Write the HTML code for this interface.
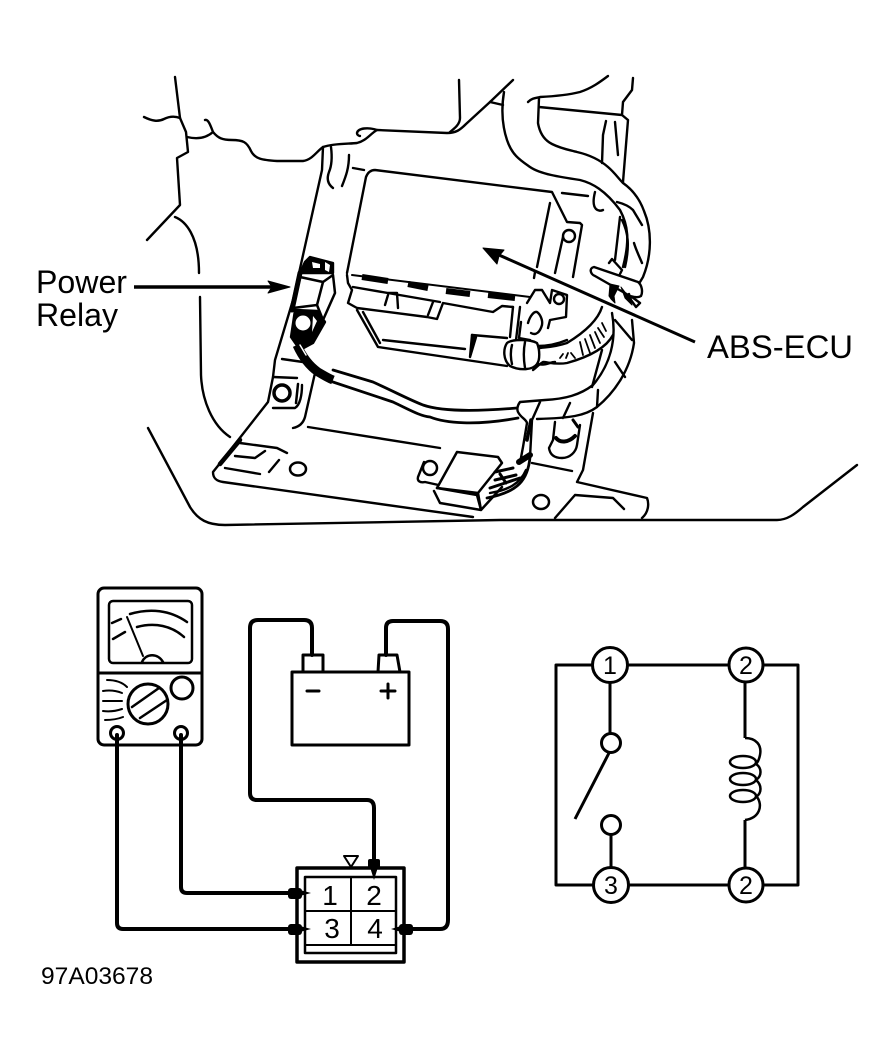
<!DOCTYPE html>
<html><head><meta charset="utf-8"><style>
html,body{margin:0;padding:0;background:#fff}
svg{display:block}
text{font-family:"Liberation Sans",sans-serif;fill:#000}
</style></head><body>
<svg width="895" height="1059" viewBox="0 0 895 1059" xmlns="http://www.w3.org/2000/svg">
<g fill="none" stroke="#000" stroke-width="2.4" stroke-linejoin="round" stroke-linecap="round">
<!-- upper outline -->
<polyline points="175,77 180,118 186,132 188,152 177,158 180,205 147,240"/>
<path d="M144,117C152,121 158,122 164,119 170,116 175,116 180,118"/>
<path d="M187,137C195,139 205,139 213,132 210,124 208,119 205,120"/>
<path d="M213,132C218,138 222,140 232,140 243,140 247,142 251,151 255,159 262,160 277,161L303,161C312,160 317,151 323,147 335,143 350,144 357,143 366,141 370,134 377,130 368,127 358,128 357,133 357,135 359,136 360,136"/>
<path d="M377,130L447,133C456,133 460,130 466,124L490,102 513,80"/>
<path d="M459,80L460,118C460,124 455,128 450,132"/>
<path d="M490,102L503,105M504,92C501,110 502,125 507,140 512,155 520,160 530,167 540,174 560,177 580,180 592,183 605,190 620,210 628,225 630,240 623,267"/>
<path d="M175,217C185,221 199,235 199,273M200,297L201,375C202,400 212,425 230,437"/>
<!-- panel -->
<path d="M323,147L322,170 293,300 275,360 273,377 268,402 217,467 213,472C213,478 216,481 223,482L473,517"/>
<path d="M240,440L220,464" stroke-width="4.5"/>
<path d="M331,147C332,155 332,165 329,172 326,180 329,185 333,188M349,155C349,168 346,176 342,186M353,168L364,170"/>
<path d="M148,428L190,507C198,520 208,525 225,525L500,520 777,520C787,520 795,514 803,507L857,465"/>
<!-- ECU -->
<path d="M347,273L366,177C368,172 371,170 375,170L552,192 567,222 580,223 582,225 573,277"/>
<path d="M550,203L537,267M535,272L534,278M563,237L555,273M562,193L588,196M595,192C593,200 593,206 596,209 598,211 601,211 603,210"/>
<circle cx="569" cy="236" r="6"/>
<path d="M347,275L348,283 352,290 348,303 357,308 427,317 437,319 443,303 493,312 502,306 513,307"/>
<path d="M353,287L440,302M388,293L397,293 398,308M388,295L385,305M433,302L428,315M357,310L378,347 507,366M363,312L380,343M383,340L465,349M472,335L507,338"/>
<path d="M352,275L530,297" stroke-width="2"/>
<path d="M362,277L388,281M408,284L428,288M446,291L470,294M488,295L515,298" stroke-width="6" stroke-linecap="butt"/>
<polygon points="472,335 476,337 470,357" fill="#000"/>
<!-- grommet and connector -->
<path d="M507,343C512,339 530,339 537,343 540,350 540,360 537,364 533,370 520,371 510,366 503,360 503,349 507,343ZM512,345C510,352 511,360 512,364M525,342C523,352 524,362 525,368M538,346C545,346 555,345 567,340M538,364C545,366 550,362 555,362"/>
<path d="M527,303L535,290 542,290 550,303 552,290 567,295 566,317 550,320 548,328M513,307L510,337M520,307L516,340M528,323C530,316 534,311 537,312 540,314 543,320 542,325 540,332 536,336 531,333M521,322L519,338 530,340"/>
<circle cx="559" cy="299" r="5"/>
<!-- harness top -->
<path d="M528,102C532,98 536,98 540,97 560,96 572,94 580,92 592,88 600,82 608,76"/>
<path d="M539,98L538,123C540,135 546,141 552,144 562,149 570,150 577,152 590,155 600,160 608,167 615,173 618,178 623,183 633,190 640,200 644,211 652,230 652,255 643,277L640,282"/>
<path d="M539,107L622,115 628,120 623,182M633,78L632,90 623,102 622,115M602,163L603,135 606,121M615,122L618,155M617,202C625,204 630,207 633,210L642,225M634,243C636,250 640,258 642,263M620,217L615,260M622,220C628,232 630,245 625,267"/>
<!-- strap -->
<path d="M594,267L638,282C642,285 643,292 641,296 638,298 634,297 630,296L595,276C590,274 589,268 594,267Z" fill="#fff"/>
<path d="M609,263L612,259 622,270 620,274M632,297L640,303 636,307 631,300 629,294"/>
<polygon points="610,284 619,286 614,296 615,303 611,299 609,296" fill="#000" stroke-width="1"/>
<polygon points="621,287 628,296 632,305 625,298" fill="#000" stroke-width="1"/>
<!-- lower harness -->
<path d="M602,307C598,320 585,332 567,343 555,347 548,347 540,348"/>
<path d="M613,335C605,350 585,358 567,363 555,365 548,362 543,362 538,365 536,368 533,370"/>
<path d="M612,313C617,340 610,365 593,385 580,395 565,399 545,400L520,402C517,406 517,410 518,412 521,418 526,419 527,423L523,447 520,463"/>
<path d="M632,320L634,343C630,370 615,392 597,407 585,416 570,418 537,419M615,320L632,340M615,362L625,377M602,350L592,387M598,390L597,407M540,402L532,420 530,457M570,403L563,418"/>
<path d="M333,370L373,382C395,392 410,400 423,405 440,411 470,412 517,408" stroke-width="2.8"/>
<path d="M333,382L393,402C410,410 420,416 430,417 445,423 475,426 518,418" stroke-width="2.8"/>
<g stroke-width="1.8">
<path d="M580,342L583,355M585,339L590,353M590,335L595,348M595,332L600,343M598,328L604,337M602,323L606,331M560,358L563,354M566,358L568,353M571,353L575,358"/>
</g>
<!-- relay -->
<path d="M310,257L333,263 333,273 300,273 305,262Z" fill="#000"/>
<polygon points="312,262 320,264 320,268 313,268" fill="#fff" stroke="none"/>
<polygon points="325,262 330,265 329,272 325,270" fill="#fff" stroke="none"/>
<path d="M300,273L292,310" stroke-width="5"/>
<path d="M300,277L323,282 317,305 293,308Z" stroke-width="2.5"/>
<path d="M323,282L333,275 335,293 323,320 317,305" stroke-width="2.5"/>
<path d="M291,337L295,310 317,311 325,322 313,343 300,350 Z" fill="#000"/>
<circle cx="303" cy="323" r="7.5" fill="#fff" stroke="none"/>
<polygon points="313,316 317,321 312,332" fill="#fff" stroke="none"/>
<path d="M297,345C302,356 308,365 318,372 325,376 328,378 333,380" stroke-width="9" stroke-linecap="butt"/>
<path d="M300,345L306,355" stroke="#fff" stroke-width="1.5"/>
<!-- lower left bolt -->
<path d="M282,359L303,362M273,377L297,378M315,373L305,417C303,424 298,427 293,428M308,427L440,448"/>
<circle cx="282" cy="393" r="8" stroke-width="3.5"/>
<path d="M302,385C302,395 300,405 295,408L273,408"/>
<path d="M298,384L296,403" stroke-width="2.5"/>
<path d="M240,443L277,448 287,453M235,456L255,458 265,451M225,468L260,474M269,472L279,460"/>
<ellipse cx="298" cy="469" rx="8" ry="6.5" stroke-width="2.5"/>
<!-- bolt near connector -->
<circle cx="430" cy="468" r="7" stroke-width="2.5"/>
<path d="M424,462L418,477C417,481 420,483 425,482L443,486"/>
<!-- connector -->
<path d="M457,452L498,457 502,463 478,493 437,488Z" fill="#fff" stroke-width="2.5"/>
<path d="M437,488L477,495 481,510 440,503 434,491M478,493L481,510 502,487" stroke-width="2.5"/>
<path d="M495,472L513,468M495,480L516,475M490,488L520,478M500,474L506,483" stroke-width="3"/>
<path d="M519,462L530,455" stroke-width="6"/>
<path d="M527,440L531,420" stroke-width="3.5"/>
<path d="M532,463L572,471"/>
<path d="M530,457C528,480 518,492 487,498" stroke-width="2.8"/>
<path d="M526,470C520,484 508,490 490,493" stroke-width="2.4"/>
<!-- right bolt -->
<path d="M555,422L553,440 549,448C550,455 555,458 562,458 570,458 576,452 577,445L580,425"/>
<path d="M556,438C560,443 568,443 575,436" stroke-width="4"/>
<path d="M573,420L578,427" stroke-width="3"/>
<path d="M593,413L583,470 577,482 647,498C649,503 649,512 642,518"/>
<ellipse cx="541" cy="502" rx="8" ry="7" stroke-width="2.5"/>
<path d="M555,518L575,495 613,498 624,509"/>
<!-- leader arrows -->
<path d="M134,287L275,287" stroke-width="3.5" stroke-linecap="butt"/>
<polygon points="268,281 290,287 268,293 272,287" fill="#000" stroke-width="1"/>
<path d="M490,251L695,342" stroke-width="3" stroke-linecap="butt"/>
<polygon points="483,248 504,250 499,256 497,264" fill="#000" stroke-width="1"/>
</g>
<text x="36" y="293" font-size="32" textLength="91" lengthAdjust="spacingAndGlyphs">Power</text>
<text x="36" y="326" font-size="32" textLength="82" lengthAdjust="spacingAndGlyphs">Relay</text>
<text x="707" y="358" font-size="32" textLength="146" lengthAdjust="spacingAndGlyphs">ABS-ECU</text>

<!-- meter -->
<g fill="none" stroke="#000" stroke-width="3" stroke-linejoin="round" stroke-linecap="round">
<rect x="98" y="588" width="104" height="157" rx="6"/>
<path d="M98,673H202"/>
<rect x="109" y="601" width="83" height="62" rx="4" stroke-width="2.5"/>
<path d="M130,614C150,608 170,610 187,622M137,627C155,622 172,626 184,637M112,623L121,619M113,639L125,632M142,662C146,653 158,653 163,662" stroke-width="2.5"/>
<path d="M127,617L143,656" stroke-width="2"/>
<circle cx="148" cy="704" r="20"/>
<path d="M132,707L159,688M140,718L167,700" stroke-width="2.5"/>
<circle cx="182" cy="688" r="11"/>
<path d="M107,680C115,680 122,682 127,687M103,691C110,690 117,691 122,693M103,701H122M103,711C110,712 116,711 122,709M105,720C112,720 118,719 123,717" stroke-width="2"/>
<circle cx="117" cy="733" r="6.5" fill="#fff"/>
<circle cx="181" cy="733" r="6.5" fill="#fff"/>
<!-- wires -->
<path d="M117,735V923Q117,929 123,929H295M181,735V887Q181,893 187,893H295" stroke-width="4"/>
<path d="M312,655V628Q312,620 304,620H258Q250,620 250,628V793Q250,800 257,800H367Q374,800 374,808V862" stroke-width="4"/>
<path d="M386,655V628Q386,621 393,621H440Q448,621 448,629V920Q448,929 440,929H400" stroke-width="4"/>
<!-- battery -->
<rect x="292" y="672" width="117" height="73"/>
<path d="M303,672V655H323V672M378,672L379,655H397L400,672"/>
<path d="M307,691H319M381,691H395M388,684V698"/>
<!-- connector -->
<rect x="297" y="868" width="107" height="94" stroke-width="3.5"/>
<rect x="305" y="877" width="91" height="76" stroke-width="2.5"/>
<path d="M351,877V945M305,911H396M305,945H396" stroke-width="2"/>
<polygon points="344,856 358,856 351,867" stroke-width="2" fill="#fff"/>
</g>
<g fill="#000" stroke="none">
<rect x="288" y="888" width="14" height="11" rx="3"/>
<polygon points="300,890 311,893 300,896"/>
<rect x="288" y="924" width="14" height="11" rx="3"/>
<polygon points="300,926 311,929 300,932"/>
<rect x="399" y="924" width="14" height="11" rx="3"/>
<polygon points="401,926 391,929 401,932"/>
<rect x="368" y="859" width="12" height="10" rx="2"/>
<polygon points="370,867 378,867 374,880"/>
</g>
<text x="330" y="905" font-size="28" text-anchor="middle">1</text>
<text x="374" y="905" font-size="28" text-anchor="middle">2</text>
<text x="332" y="938" font-size="28" text-anchor="middle">3</text>
<text x="375" y="938" font-size="28" text-anchor="middle">4</text>
<text x="41" y="984" font-size="24" textLength="112" lengthAdjust="spacingAndGlyphs">97A03678</text>

<!-- relay circuit -->
<g fill="none" stroke="#000" stroke-width="3" stroke-linejoin="round" stroke-linecap="butt">
<rect x="556" y="665" width="242" height="220"/>
<path d="M610,682V734M611,835V868M609,753L575,819M745,683V738M745,820V868"/>
<path d="M745,738C756,738 762,745 760,755 759,760 758,762 756,764M756,764C762,768 762,776 756,780M756,780C762,785 762,793 756,797M757,797C763,805 760,818 745,820" stroke-width="2.5"/>
<ellipse cx="743" cy="762" rx="13" ry="6" stroke-width="2.5"/>
<ellipse cx="743" cy="779" rx="13" ry="6" stroke-width="2.5"/>
<ellipse cx="743" cy="796" rx="13" ry="6" stroke-width="2.5"/>
<circle cx="611" cy="743" r="9.5" fill="#fff"/>
<circle cx="611" cy="825" r="9.5" fill="#fff"/>
<circle cx="610" cy="665" r="17.5" fill="#fff"/>
<circle cx="746" cy="665" r="17" fill="#fff"/>
<circle cx="611" cy="885" r="17.5" fill="#fff"/>
<circle cx="746" cy="885" r="17" fill="#fff"/>
</g>
<text x="610" y="674" font-size="25" text-anchor="middle">1</text>
<text x="746" y="674" font-size="25" text-anchor="middle">2</text>
<text x="611" y="894" font-size="25" text-anchor="middle">3</text>
<text x="746" y="894" font-size="25" text-anchor="middle">2</text>
</svg>
</body></html>
